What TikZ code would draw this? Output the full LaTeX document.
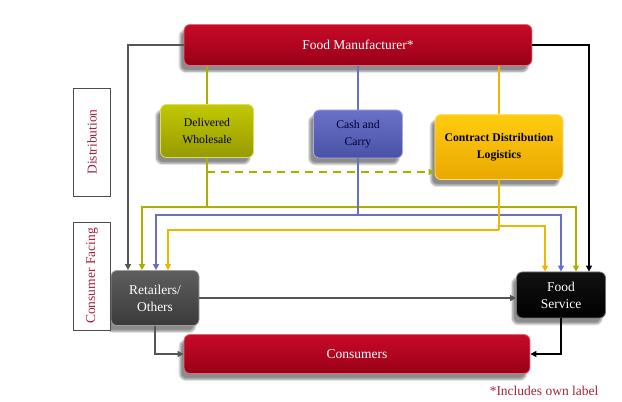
\documentclass[tikz,border=0pt]{standalone}
\usepackage{fontspec}
\setmainfont{Liberation Serif}
\usetikzlibrary{arrows.meta,shadows.blur}
\definecolor{fmtop}{HTML}{C80A28}
\definecolor{fmbot}{HTML}{980018}
\definecolor{dwtop}{HTML}{C2C800}
\definecolor{dwbot}{HTML}{969A00}
\definecolor{cctop}{HTML}{6A72C8}
\definecolor{ccbot}{HTML}{4A52A8}
\definecolor{cdtop}{HTML}{FFCC10}
\definecolor{cdbot}{HTML}{EAA800}
\definecolor{rotop}{HTML}{5E5E5E}
\definecolor{robot}{HTML}{3A3A3A}
\definecolor{fstop}{HTML}{111111}
\definecolor{fsbot}{HTML}{000000}
\definecolor{oline}{HTML}{A8B000}
\definecolor{bline}{HTML}{6870C0}
\definecolor{yline}{HTML}{EDB600}
\definecolor{gline}{HTML}{555555}
\definecolor{labred}{HTML}{A3223C}
\newcommand\mainsize{\fontsize{13.5}{17}\selectfont}
\newcommand\subsize{\fontsize{11.7}{17}\selectfont}
\begin{document}
\begin{tikzpicture}
[
x=1pt,y=1pt,
>={Triangle[length=6pt,width=6pt]},
block/.style 2 args={rounded corners=6pt,draw=#1!60!white,line width=0.8pt,
            top color=#1,bottom color=#2,align=center,inner sep=2pt,
            blur shadow={shadow xshift=-4pt,shadow yshift=-6pt,shadow blur steps=10,shadow opacity=45}},
sidelabel/.style={draw=black!70,line width=0.7pt,fill=white,rotate=90,
            minimum width=108pt,minimum height=37pt,text=labred,font=\mainsize},
conn/.style={draw=#1,line width=1.8pt},
]
\useasboundingbox (0,0) rectangle (622,402);

%Place the nodes
\node[block={fmtop}{fmbot},minimum width=348pt,minimum height=41pt,text=white,font=\mainsize] (fm) at (358,357) {Food Manufacturer*};
\node[block={dwtop}{dwbot},minimum width=93pt,minimum height=53pt,font=\subsize] (dw) at (207,271) {Delivered\\Wholesale};
\node[block={cctop}{ccbot},minimum width=89pt,minimum height=48pt,text=black!80!blue,font=\subsize] (cc) at (358,268) {Cash and\\Carry};
\node[block={cdtop}{cdbot},minimum width=128pt,minimum height=65pt,font=\subsize\bfseries] (cdl) at (499,255) {Contract Distribution\\Logistics};
\node[block={rotop}{robot},minimum width=88pt,minimum height=55pt,text=white,font=\mainsize] (ret) at (155,104) {Retailers/\\Others};
\node[block={fstop}{fsbot},minimum width=89pt,minimum height=46pt,text=white,font=\mainsize] (fs) at (561,107) {Food\\Service};
\node[block={fmtop}{fmbot},minimum width=346pt,minimum height=39pt,text=white,font=\mainsize] (cons) at (357,48) {Consumers};
\node[sidelabel] (dist) at (92,260) {Distribution};
\node[sidelabel] (cfac) at (92,126) {Consumer Facing};
\node[text=labred,font=\mainsize,anchor=east] (note) at (602,11) {*Includes own label};

%Junctions
\coordinate (oj) at (dw.south |- 0,195);
\coordinate (bj) at (cc.south |- 0,187);
\coordinate (yj) at (cdl.south |- 0,176);
\coordinate (yk) at (cdl.south |- 0,172);
\coordinate (dtap) at (dw.south |- 0,230);

%Draw the connections
\draw[conn=gline,line width=1.4pt,->] (fm.west) -| ([xshift=-27pt]ret.north);
\draw[conn=black,line width=1.4pt,->] (fm.east) -| ([xshift=28pt]fs.north);
\draw[conn=oline] (dw.north |- fm.south) -- (dw.north);
\draw[conn=bline] (cc.north |- fm.south) -- (cc.north);
\draw[conn=yline] (cdl.north |- fm.south) -- (cdl.north);
\draw[conn=oline] (dw.south) -- (oj);
\draw[conn=oline,->] (oj) -| ([xshift=-13pt]ret.north);
\draw[conn=oline,->] (oj) -| ([xshift=15pt]fs.north);
\draw[conn=oline,dash pattern=on 8pt off 6pt,line width=2.2pt,->] (dtap) -- (dtap -| cdl.west);
\draw[conn=bline] (cc.south) -- (bj);
\draw[conn=bline,->] (bj) -| ([xshift=1pt]ret.north);
\draw[conn=bline,->] (bj) -| (fs.north);
\draw[conn=yline] (cdl.south) -- (yk);
\draw[conn=yline,->] (yj) -| ([xshift=-16pt]fs.north);
\draw[conn=yline,->] (yk) -| ([xshift=13pt]ret.north);
\draw[conn=gline,line width=1.4pt,->] (ret.east) -- (ret.east -| fs.west);
\draw[conn=gline,line width=1.4pt,->] (ret.south) |- (cons.west);
\draw[conn=black,line width=1.4pt,->] (fs.south) |- (cons.east);
\end{tikzpicture}
\end{document}
